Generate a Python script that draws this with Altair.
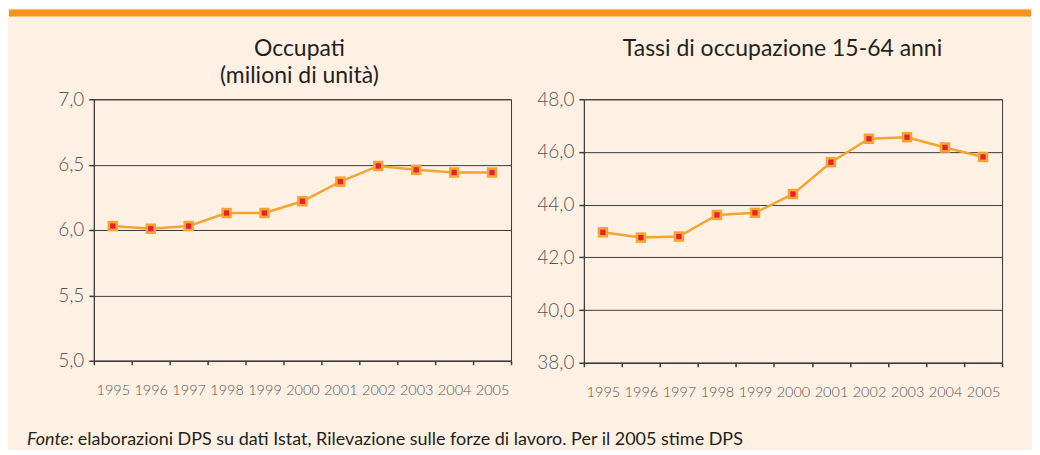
import altair as alt
import pandas as pd

years = ["1995", "1996", "1997", "1998", "1999", "2000", "2001", "2002", "2003", "2004", "2005"]
occupati = [6.03, 6.01, 6.03, 6.13, 6.13, 6.22, 6.37, 6.49, 6.46, 6.44, 6.44]
tassi = [42.95, 42.75, 42.79, 43.61, 43.69, 44.40, 45.61, 46.50, 46.56, 46.17, 45.81]
ticks_left = [5.0, 5.5, 6.0, 6.5, 7.0]
ticks_right = [38.0, 40.0, 42.0, 44.0, 46.0, 48.0]
title_left = ["Occupati", "(milioni di unità)"]
title_right = ["Tassi di occupazione 15-64 anni"]
footer_italic = ["Fonte:"]
footer_text = ["elaborazioni DPS su dati Istat, Rilevazione sulle forze di lavoro. Per il 2005 stime DPS"]

BG = "#FEF1E3"
BAND = "#F7941D"
LINE = "#F4A431"
RED = "#E8222B"
DARK = "#3A3A3A"
TXT = "#231F20"
FONT = "Lato"

df_l = pd.DataFrame({"anno": years, "v": occupati})
df_r = pd.DataFrame({"anno": years, "v": tassi})


def text_layer(txt, x, y, size, style="normal", align="center"):
    return alt.Chart(pd.DataFrame({"t": [txt]})).mark_text(
        align=align, baseline="middle", font=FONT, fontSize=size, fontStyle=style, color=TXT
    ).encode(text="t:N", x=alt.value(x), y=alt.value(y))


def panel(df, domain, ticks, w, h, extras):
    x = alt.X(
        "anno:N", sort=years,
        scale=alt.Scale(type="band", paddingInner=0, paddingOuter=0),
        axis=alt.Axis(title=None, labelAngle=0, tickBand="extent", grid=False,
                      labelFont=FONT, labelFontSize=14.5, labelColor="#555555",
                      labelFontWeight=300, labelPadding=19, tickSize=4,
                      tickColor=DARK, domainColor=DARK, tickWidth=1.5),
    )
    y = alt.Y(
        "v:Q",
        scale=alt.Scale(domain=domain, nice=False, zero=False),
        axis=alt.Axis(title=None, values=ticks, grid=True, gridColor=DARK, gridWidth=1,
                      labelExpr="replace(format(datum.value, '.1f'), '.', ',')",
                      labelFont=FONT, labelFontSize=19, labelColor="#555555",
                      labelFontWeight=300, labelPadding=5, tickSize=5,
                      tickColor=DARK, domainColor=DARK, tickWidth=1.5),
    )
    base = alt.Chart(df).encode(x=x, y=y)
    line = base.mark_line(color=LINE, strokeWidth=2.5)
    outer = base.mark_point(shape="square", filled=True, size=110, color=LINE, opacity=1)
    inner = base.mark_point(shape="square", filled=True, size=28, color=RED, opacity=1)
    return alt.layer(line, outer, inner, *extras).properties(
        width=w, height=h,
        view=alt.ViewConfig(stroke=DARK, strokeWidth=1),
    )


band = alt.Chart(pd.DataFrame({"b": [0]})).mark_rect(color=BAND).encode(
    x=alt.value(-85), x2=alt.value(939), y=alt.value(-90), y2=alt.value(-83)
)
left_extras = [
    band,
    text_layer(title_left[0], 206, -50, 23),
    text_layer(title_left[1], 206, -23, 23),
    text_layer(footer_italic[0], -67, 341, 18, style="italic", align="left"),
    text_layer(footer_text[0], -16, 341, 18, align="left"),
]
right_extras = [
    text_layer(title_right[0], 199, -50, 23),
]

left = panel(df_l, [5.0, 7.0], ticks_left, 418, 262, left_extras)
right = panel(df_r, [38.0, 48.0], ticks_right, 419, 264, right_extras)

chart = alt.hconcat(left, right, spacing=73, bounds="flush").properties(
    padding=0, background=BG
).configure_view(stroke="transparent")

chart.save("out.html", embed_options={"renderer": "svg", "actions": False})
